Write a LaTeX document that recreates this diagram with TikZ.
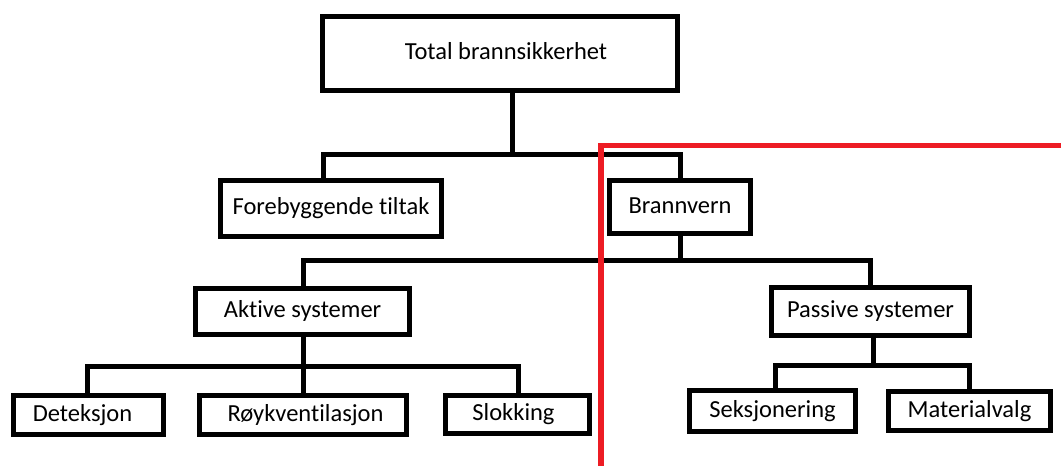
\documentclass[tikz,border=0pt]{standalone}
\usepackage{fontspec}
\setmainfont{Carlito}[Ligatures={NoCommon}]
\definecolor{paintred}{RGB}{237,28,36}
\tikzset{
  boxnode/.style={draw=black, line width=5.2pt, fill=white, inner sep=0pt,
    font=\fontsize{24.5}{29}\selectfont, text height=18pt, text depth=6pt},
  conn/.style={draw=black, line width=5pt, line join=miter},
  redline/.style={draw=paintred, line width=5.5pt, line join=miter}
}
\begin{document}
\begin{tikzpicture}[x=1pt, y=-1pt]
\useasboundingbox (0,0) rectangle (1061,466);
% boxes
\node[boxnode, minimum width=355pt, minimum height=74pt] (top) at (500,53.5) {\hspace*{12pt}Total brannsikkerhet};
\node[boxnode, minimum width=221pt, minimum height=56pt] (fore) at (331,208.5) {Forebyggende tiltak};
\node[boxnode, minimum width=141pt, minimum height=53pt] (brann) at (680,207) {Brannvern};
\node[boxnode, minimum width=214pt, minimum height=46pt] (aktive) at (302.5,311.5) {Aktive systemer};
\node[boxnode, minimum width=198pt, minimum height=48pt] (passive) at (870.5,311.5) {Passive systemer};
\node[boxnode, minimum width=150pt, minimum height=39pt] (det) at (88.5,415) {Deteksjon\hspace*{12pt}};
\node[boxnode, minimum width=207pt, minimum height=39pt] (royk) at (303,415) {\hspace*{5pt}R\o ykventilasjon};
\node[boxnode, minimum width=144pt, minimum height=38pt] (slok) at (517.5,414.5) {Slokking\hspace*{8pt}};
\node[boxnode, minimum width=166pt, minimum height=41pt] (seks) at (772.5,411) {Seksjonering};
\node[boxnode, minimum width=162pt, minimum height=39pt] (mat) at (969.5,411) {Materialvalg};
% junctions
\coordinate (j1) at (512,154);
\coordinate (j2) at (303,260);
\coordinate (j3) at (303,366);
\coordinate (j4) at (873,365);
% connectors
\draw[conn] (top.south -| j1) -- (j1);
\draw[conn] ([xshift=-8pt]fore.north) |- (brann.north |- j1) -- (brann.north);
\draw[conn] (brann.south) -- (brann.south |- j2);
\draw[conn] (aktive.north -| j2) |- (passive.north |- j2) -- (passive.north);
\draw[conn] (aktive.south -| j3) -- (j3);
\draw[conn] ([xshift=-1.5pt]det.north) |- ([xshift=0.5pt]slok.north |- j3) -- ([xshift=0.5pt]slok.north);
\draw[conn] (j3) -- (royk.north);
\draw[conn] (passive.south -| j4) -- (j4);
\draw[conn] ([xshift=2.5pt]seks.north) |- (mat.north |- j4) -- (mat.north);
% red outline
\coordinate (r0) at (601,470);
\coordinate (r1) at (601,145.5);
\coordinate (r2) at (1065,145.5);
\draw[redline] (r0) -- (r1) -- (r2);
\end{tikzpicture}
\end{document}
